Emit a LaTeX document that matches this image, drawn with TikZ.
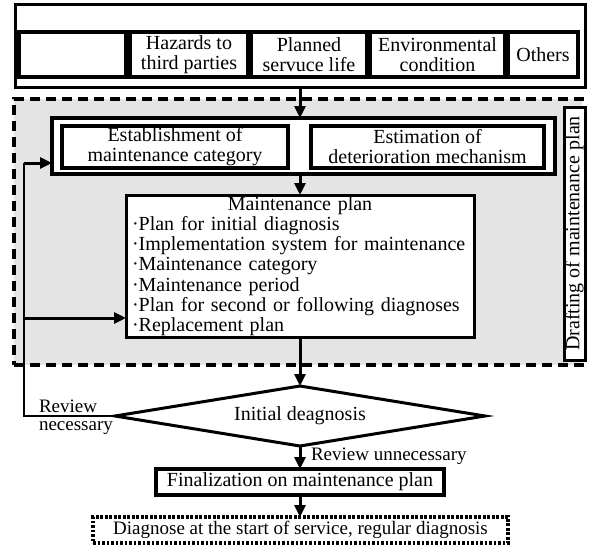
\documentclass[tikz,border=0pt]{standalone}
\usepackage{fontspec}
\setmainfont{Liberation Serif}
\usetikzlibrary{arrows.meta,shapes.geometric}
\definecolor{shade}{HTML}{E4E4E4}
\begin{document}
\begin{tikzpicture}[x=1pt,y=-1pt,
  every node/.style={font=\fontsize{20}{20}\selectfont, inner sep=0pt, outer sep=0pt},
  box/.style={draw, line width=3pt, fill=white, align=center},
  tbox/.style={draw, line width=3.6pt, fill=white, align=center},
  region/.style={draw, line width=3.4pt, fill=shade, dash pattern=on 10pt off 6pt},
  dotbox/.style={draw, line width=3.4pt, dash pattern=on 2.6pt off 1.9pt, align=center},
  lbl/.style={font=\fontsize{19}{18}\selectfont, align=left},
  arr/.style={line width=3pt, -{Triangle[length=12pt,width=11pt]}},
  loop/.style={line width=2.6pt}
]
\useasboundingbox (0,0) rectangle (594,551);

% top block
\node[box, minimum width=570pt, minimum height=82pt] (top) at (300,46) {};
\node[tbox, minimum width=107pt, minimum height=45pt] (b1) at (72.5,54.5) {};
\node[tbox, minimum width=118pt, minimum height=45pt] (b2) at (189,54.5) {Hazards to\\third parties};
\node[tbox, minimum width=116pt, minimum height=45pt] (b3) at (309,54.5) {Planned\\servuce life};
\node[tbox, minimum width=135pt, minimum height=45pt] (b4) at (437.5,54.5) {Environmental\\condition};
\node[tbox, minimum width=70pt, minimum height=45pt] (b5) at (543,54.5) {Others};

% drafting region
\node[region, minimum width=568pt, minimum height=266pt] (reg) at (298,232) {};
\node[box, rotate=90, minimum width=253pt, minimum height=21pt] (vbox) at (574.5,233.5) {Drafting of maintenance plan};

\node[tbox, minimum width=503pt, minimum height=56pt] (group) at (303.5,146) {};
\node[tbox, minimum width=226pt, minimum height=42pt] (est) at (175,147) {Establishment of\\maintenance category};
\node[tbox, minimum width=233pt, minimum height=42pt] (estim) at (427.5,147) {Estimation of\\deterioration mechanism};

\node[box, minimum width=348pt, minimum height=142pt, text width=336pt, align=left,
      font=\fontsize{20}{20.2}\selectfont] (plan) at (300,266)
  {\makebox[\linewidth]{Maintenance plan}\\
   ·Plan for initial diagnosis\\
   ·Implementation system for maintenance\\
   ·Maintenance category\\
   ·Maintenance period\\
   ·Plan for second or following diagnoses\\
   ·Replacement plan};

% lower part
\node[draw, diamond, aspect=6.17, line width=3pt, fill=white, minimum width=370pt, minimum height=60pt] (diam) at (300,416) {Initial deagnosis};
\node[tbox, minimum width=288pt, minimum height=26pt] (fin) at (300,482) {Finalization on maintenance plan};
\node[dotbox, minimum width=415pt, minimum height=26pt, font=\fontsize{19}{19}\selectfont] (diag) at (300.5,530) {Diagnose at the start of service, regular diagnosis};

\node[lbl, anchor=west] (rn) at (39,417) {Review\\necessary};
\node[lbl, anchor=west] (ru) at (311,456) {Review unnecessary};

% connectors
\draw[arr] (top.south -| plan.north) -- (group.north -| plan.north);
\draw[arr] (group.south -| plan.north) -- (plan.north);
\draw[arr] (plan.south) -- (diam.north);
\draw[arr] (diam.south) -- (fin.north);
\draw[arr] (fin.south) -- (diag.north -| fin.south);

\coordinate (lx) at (24,0);
\coordinate (gin) at ([yshift=-17pt]group.west);
\coordinate (pin) at ([yshift=-52pt]plan.west);
\draw[loop] (diam.west) -- (diam.west -| lx) -- (gin -| lx);
\draw[arr] (gin -| lx) -- (gin);
\draw[arr] (pin -| lx) -- (pin);
\end{tikzpicture}
\end{document}
